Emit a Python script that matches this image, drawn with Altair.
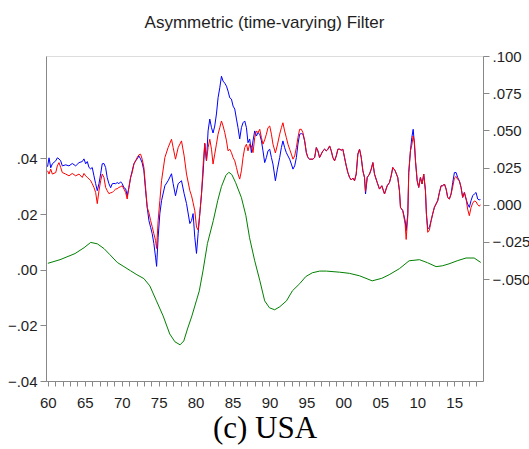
import altair as alt
import pandas as pd

# ---- data ----
years = [
    1959.96, 1960.16, 1960.39, 1960.61, 1961.07, 1961.28, 1961.51, 1961.74, 1961.96, 1962.42,
    1962.86, 1963.31, 1963.77, 1964.22, 1964.66, 1964.89, 1965.12, 1965.34, 1965.57, 1965.80,
    1966.01, 1966.24, 1966.47, 1966.69, 1966.92, 1967.15, 1967.36, 1967.59, 1967.82, 1968.04,
    1968.27, 1968.50, 1968.72, 1968.95, 1969.18, 1969.39, 1969.62, 1969.85, 1970.07, 1970.30,
    1970.53, 1970.74, 1970.97, 1971.20, 1971.42, 1971.65, 1971.88, 1972.09, 1972.32, 1972.55,
    1972.77, 1973.00, 1973.23, 1973.45, 1973.68, 1973.91, 1974.12, 1974.35, 1974.58, 1974.72,
    1974.93, 1975.16, 1975.39, 1975.84, 1976.28, 1976.74, 1976.96, 1977.28, 1977.64, 1978.09,
    1978.45, 1978.77, 1979.22, 1979.45, 1979.66, 1979.89, 1980.12, 1980.34, 1980.57, 1980.80,
    1981.01, 1981.24, 1981.47, 1981.69, 1981.92, 1982.15, 1982.36, 1982.59, 1982.82, 1983.04,
    1983.27, 1983.50, 1983.72, 1983.95, 1984.18, 1984.39, 1984.62, 1984.85, 1985.07, 1985.30,
    1985.53, 1985.74, 1985.97, 1986.20, 1986.42, 1986.65, 1986.88, 1987.09, 1987.32, 1987.55,
    1987.77, 1988.00, 1988.23, 1988.45, 1988.68, 1988.91, 1989.12, 1989.35, 1989.58, 1989.80,
    1990.03, 1990.26, 1990.47, 1990.80, 1991.07, 1991.38, 1991.61, 1991.82, 1992.05, 1992.28,
    1992.50, 1992.73, 1992.96, 1993.18, 1993.41, 1993.64, 1993.85, 1994.08, 1994.31, 1994.53,
    1994.76, 1994.99, 1995.20, 1995.43, 1995.88, 1996.11, 1996.34, 1996.55, 1996.78, 1997.01,
    1997.23, 1997.46, 1997.69, 1997.91, 1998.14, 1998.36, 1998.58, 1998.81, 1999.04, 1999.26,
    1999.49, 1999.72, 1999.93, 2000.16, 2000.39, 2000.61, 2000.84, 2001.07, 2001.28, 2001.51,
    2001.74, 2001.96, 2002.19, 2002.42, 2002.64, 2002.86, 2003.00, 2003.23, 2003.54, 2003.77,
    2003.99, 2004.22, 2004.58, 2004.89, 2005.20, 2005.57, 2005.93, 2006.24, 2006.47, 2006.69,
    2007.01, 2007.36, 2007.59, 2007.73, 2008.04, 2008.36, 2008.50, 2008.72, 2008.85, 2009.08,
    2009.26, 2009.45, 2009.62, 2009.76, 2009.99, 2010.20, 2010.43, 2010.66, 2010.88, 2011.11,
    2011.24, 2011.42, 2011.65, 2011.88, 2012.09, 2012.32, 2012.55, 2012.77, 2013.00, 2013.23,
    2013.45, 2013.68, 2013.91, 2014.12, 2014.35, 2014.58, 2014.80, 2015.03, 2015.26, 2015.47,
    2015.70, 2015.93, 2016.15, 2016.38, 2016.61, 2016.82, 2017.05, 2017.28, 2017.50, 2017.73,
    2017.96, 2018.18, 2018.41, 2018.54,
]

series_vals = [
    0.0255, 0.0315, 0.0248, 0.0275, 0.0295, 0.0315, 0.0308, 0.0295, 0.0261, 0.0268,
    0.0261, 0.0277, 0.0261, 0.0283, 0.0290, 0.0308, 0.0275, 0.0290, 0.0250, 0.0241,
    0.0250, 0.0194, 0.0141, 0.0094, 0.0141, 0.0208, 0.0275, 0.0277, 0.0250, 0.0181,
    0.0141, 0.0114, 0.0141, 0.0143, 0.0141, 0.0149, 0.0141, 0.0154, 0.0141, 0.0114,
    0.0107, 0.0060, 0.0114, 0.0181, 0.0228, 0.0275, 0.0295, 0.0308, 0.0328, 0.0308,
    0.0281, 0.0228, 0.0094, -0.0018, -0.0107, -0.0152, -0.0194, -0.0261, -0.0353, -0.0415,
    -0.0219, -0.0060, 0.0027, 0.0127, 0.0161, 0.0208, 0.0141, 0.0060, 0.0141, 0.0161,
    0.0074, 0.0007, -0.0127, -0.0107, -0.0060, -0.0219, -0.0328, -0.0194, -0.0060, 0.0074,
    0.0208, 0.0409, 0.0295, 0.0496, 0.0576, 0.0518, 0.0482, 0.0529, 0.0610, 0.0719,
    0.0786, 0.0864, 0.0831, 0.0817, 0.0797, 0.0764, 0.0719, 0.0710, 0.0663, 0.0643,
    0.0576, 0.0518, 0.0442, 0.0518, 0.0551, 0.0563, 0.0518, 0.0417, 0.0442, 0.0350,
    0.0429, 0.0496, 0.0462, 0.0484, 0.0474, 0.0429, 0.0362, 0.0283, 0.0317, 0.0362,
    0.0373, 0.0317, 0.0273, 0.0161, 0.0239, 0.0317, 0.0384, 0.0429, 0.0384, 0.0350,
    0.0328, 0.0306, 0.0273, 0.0239, 0.0261, 0.0317, 0.0407, 0.0474, 0.0478, 0.0474,
    0.0429, 0.0350, 0.0317, 0.0306, 0.0306, 0.0317, 0.0384, 0.0362, 0.0317, 0.0340,
    0.0362, 0.0373, 0.0362, 0.0373, 0.0395, 0.0362, 0.0317, 0.0295, 0.0328, 0.0373,
    0.0373, 0.0367, 0.0373, 0.0317, 0.0261, 0.0216, 0.0183, 0.0166, 0.0179, 0.0161,
    0.0206, 0.0340, 0.0373, 0.0317, 0.0228, 0.0183, 0.0072, 0.0183, 0.0206, 0.0239,
    0.0283, 0.0205, 0.0149, 0.0105, 0.0127, 0.0072, 0.0127, 0.0149, 0.0194, 0.0250,
    0.0228, 0.0183, 0.0094, -0.0018, -0.0040, -0.0107, -0.0174, -0.0060, 0.0216, 0.0362,
    0.0451, 0.0507, 0.0407, 0.0295, 0.0161, 0.0116, 0.0183, 0.0139, 0.0206, 0.0094,
    -0.0062, -0.0163, -0.0152, -0.0107, -0.0062, -0.0018, 0.0005, 0.0027, 0.0082, 0.0127,
    0.0127, 0.0139, 0.0105, 0.0049, 0.0038, 0.0072, 0.0149, 0.0216, 0.0216, 0.0183,
    0.0161, 0.0116, 0.0049, 0.0082, 0.0038, 0.0005, -0.0018, 0.0027, 0.0060, 0.0072,
    0.0082, 0.0038, 0.0031, 0.0038,
]

noncyclical_vals = [
    0.0228, 0.0206, 0.0239, 0.0206, 0.0216, 0.0261, 0.0283, 0.0250, 0.0216, 0.0206,
    0.0194, 0.0210, 0.0194, 0.0206, 0.0183, 0.0210, 0.0194, 0.0183, 0.0174, 0.0161,
    0.0141, 0.0116, 0.0082, 0.0007, 0.0094, 0.0161, 0.0206, 0.0183, 0.0116, 0.0094,
    0.0074, 0.0080, 0.0082, 0.0094, 0.0105, 0.0107, 0.0116, 0.0121, 0.0127, 0.0105,
    0.0082, 0.0038, 0.0116, 0.0183, 0.0216, 0.0273, 0.0295, 0.0317, 0.0335, 0.0340,
    0.0306, 0.0250, 0.0116, -0.0018, -0.0054, -0.0107, -0.0147, -0.0196, -0.0241, -0.0295,
    -0.0107, 0.0027, 0.0161, 0.0317, 0.0384, 0.0440, 0.0384, 0.0306, 0.0384, 0.0429,
    0.0328, 0.0206, 0.0094, 0.0060, 0.0013, -0.0040, -0.0150, -0.0170, -0.0060, 0.0072,
    0.0261, 0.0415, 0.0295, 0.0384, 0.0440, 0.0373, 0.0273, 0.0340, 0.0407, 0.0474,
    0.0518, 0.0563, 0.0529, 0.0484, 0.0429, 0.0362, 0.0373, 0.0350, 0.0317, 0.0295,
    0.0250, 0.0206, 0.0172, 0.0228, 0.0317, 0.0384, 0.0407, 0.0362, 0.0407, 0.0395,
    0.0350, 0.0451, 0.0496, 0.0484, 0.0507, 0.0451, 0.0407, 0.0436, 0.0474, 0.0518,
    0.0529, 0.0474, 0.0407, 0.0348, 0.0402, 0.0474, 0.0518, 0.0551, 0.0496, 0.0451,
    0.0407, 0.0373, 0.0340, 0.0306, 0.0328, 0.0384, 0.0451, 0.0507, 0.0507, 0.0484,
    0.0429, 0.0350, 0.0317, 0.0306, 0.0306, 0.0317, 0.0384, 0.0362, 0.0317, 0.0340,
    0.0362, 0.0373, 0.0362, 0.0373, 0.0395, 0.0362, 0.0317, 0.0295, 0.0328, 0.0373,
    0.0373, 0.0367, 0.0373, 0.0317, 0.0261, 0.0216, 0.0183, 0.0166, 0.0179, 0.0161,
    0.0206, 0.0340, 0.0373, 0.0317, 0.0228, 0.0183, 0.0090, 0.0183, 0.0206, 0.0239,
    0.0283, 0.0205, 0.0149, 0.0105, 0.0127, 0.0072, 0.0127, 0.0149, 0.0194, 0.0250,
    0.0228, 0.0183, 0.0094, -0.0018, -0.0040, -0.0130, -0.0234, -0.0080, 0.0216, 0.0362,
    0.0400, 0.0462, 0.0420, 0.0295, 0.0161, 0.0116, 0.0183, 0.0139, 0.0206, 0.0094,
    -0.0062, -0.0186, -0.0170, -0.0107, -0.0062, -0.0018, 0.0005, 0.0027, 0.0082, 0.0127,
    0.0127, 0.0139, 0.0105, 0.0049, 0.0038, 0.0072, 0.0120, 0.0180, 0.0190, 0.0170,
    0.0161, 0.0116, 0.0049, 0.0082, 0.0038, -0.0030, -0.0074, -0.0020, 0.0010, 0.0025,
    0.0020, 0.0000, -0.0010, 0.0000,
]

cycle_years = [
    1960.0, 1961.65, 1963.68, 1964.9, 1965.8, 1966.7, 1967.6, 1968.4, 1969.4, 1970.3,
    1971.2, 1972.05, 1973.0, 1973.8, 1974.7, 1975.6, 1976.5, 1977.2, 1977.9, 1978.4,
    1978.9, 1979.5, 1980.1, 1980.5, 1981.0, 1981.6, 1982.4, 1983.0, 1983.5, 1984.1,
    1984.5, 1984.9, 1985.4, 1986.2, 1986.8, 1987.3, 1988.0, 1988.7, 1989.35, 1990.0,
    1990.7, 1991.4, 1992.3, 1993.1, 1994.1, 1994.9, 1995.8, 1996.8, 1997.7, 1999.5,
    2000.8, 2002.2, 2003.9, 2005.2, 2006.2, 2007.6, 2008.9, 2010.3, 2011.4, 2012.55,
    2013.4, 2014.3, 2015.4, 2016.6, 2017.7, 2018.6,
]
cycle_vals = [
    0.0023, 0.0036, 0.0058, 0.0079, 0.0098, 0.0093, 0.0076, 0.0054, 0.0026, 0.0011,
    -0.0004, -0.0018, -0.0032, -0.0058, -0.0112, -0.0166, -0.0231, -0.0259, -0.0270, -0.0256,
    -0.0213, -0.0166, -0.0112, -0.0076, -0.0004, 0.0094, 0.0177, 0.0249, 0.0299, 0.0339,
    0.0350, 0.0342, 0.0314, 0.0259, 0.0195, 0.0115, 0.0032, -0.0040, -0.0112, -0.0137,
    -0.0144, -0.0133, -0.0112, -0.0076, -0.0050, -0.0025, -0.0011, -0.0005, -0.0005, -0.0009,
    -0.0013, -0.0022, -0.0040, -0.0031, -0.0018, 0.0004, 0.0032, 0.0036, 0.0025, 0.0011,
    0.0014, 0.0021, 0.0032, 0.0042, 0.0042, 0.0026,
]

year_ticks = list(range(1960, 2019))
left_ticks = [-0.04, -0.02, 0.0, 0.02, 0.04]
right_ticks = [-0.05, -0.025, 0.0, 0.025, 0.05, 0.075, 0.1]

df_sr = pd.DataFrame({"year": years, "series": series_vals, "noncyc": noncyclical_vals})
df_c = pd.DataFrame({"year": cycle_years, "cycle": cycle_vals})

AX = "#6b6b6b"
LBL = "#1e1e1e"
FONT = "Liberation Sans"
LFS = 15

xscale = alt.Scale(domain=[1959.75, 2018.9], nice=False, zero=False)
xaxis = alt.Axis(
    values=year_ticks,
    labelExpr="datum.value % 5 == 0 ? slice(toString(datum.value), 2) : ''",
    title="(c) USA",
    titleFont="Liberation Serif",
    titleFontSize=31,
    titleFontWeight="normal",
    titleColor="#000000",
    titlePadding=3,
    tickSize=5,
    labelPadding=9,
    labelFont=FONT,
    labelFontSize=LFS,
    labelColor=LBL,
    labelFlush=False,
    labelOverlap=False,
    grid=False,
)
left_axis = alt.Axis(
    orient="left",
    values=left_ticks,
    labelExpr="replace(format(datum.value, '.2f'), '0.', '.')",
    title=None,
    tickSize=6,
    labelPadding=3,
    labelFont=FONT,
    labelFontSize=LFS,
    labelColor=LBL,
    labelFlush=False,
    grid=False,
)
right_axis = alt.Axis(
    orient="right",
    values=right_ticks,
    labelExpr="replace(format(datum.value, '.3f'), '0.', '.')",
    title=None,
    tickSize=6,
    labelPadding=3,
    labelFont=FONT,
    labelFontSize=LFS,
    labelColor=LBL,
    labelFlush=False,
    grid=False,
)
lscale = alt.Scale(domain=[-0.04, 0.0768], nice=False, zero=False)
rscale = alt.Scale(domain=[-0.1186, 0.100], nice=False, zero=False)

cycle_line = alt.Chart(df_c).mark_line(color="#008000", strokeWidth=1).encode(
    x=alt.X("year:Q", scale=xscale, axis=xaxis),
    y=alt.Y("cycle:Q", scale=lscale, axis=left_axis),
)
series_line = alt.Chart(df_sr).mark_line(color="#0000ff", strokeWidth=1).encode(
    x=alt.X("year:Q", scale=xscale, axis=xaxis),
    y=alt.Y("series:Q", scale=rscale, axis=right_axis),
)
noncyc_line = alt.Chart(df_sr).mark_line(color="#ff0000", strokeWidth=1).encode(
    x=alt.X("year:Q", scale=xscale, axis=xaxis),
    y=alt.Y("noncyc:Q", scale=rscale, axis=right_axis),
)

chart = (
    alt.layer(cycle_line, alt.layer(series_line, noncyc_line))
    .resolve_scale(y="independent")
    .properties(
        width=437,
        height=325,
        autosize=alt.AutoSizeParams(type="none"),
        padding={"left": 46, "top": 56, "right": 46, "bottom": 68},
        title=alt.Title(
            "Asymmetric (time-varying) Filter",
            font=FONT,
            fontSize=17,
            fontWeight="normal",
            color=LBL,
            anchor="middle",
            baseline="alphabetic",
            offset=4,
        ),
    )
    .configure_view(stroke=AX, strokeWidth=1)
    .configure_axis(
        domainColor=AX,
        tickColor=AX,
        labelColor=LBL,
        labelFont=FONT,
        labelFontSize=LFS,
    )
    .configure(background="white")
)

chart.save("out.html", embed_options={"renderer": "svg", "actions": False})
